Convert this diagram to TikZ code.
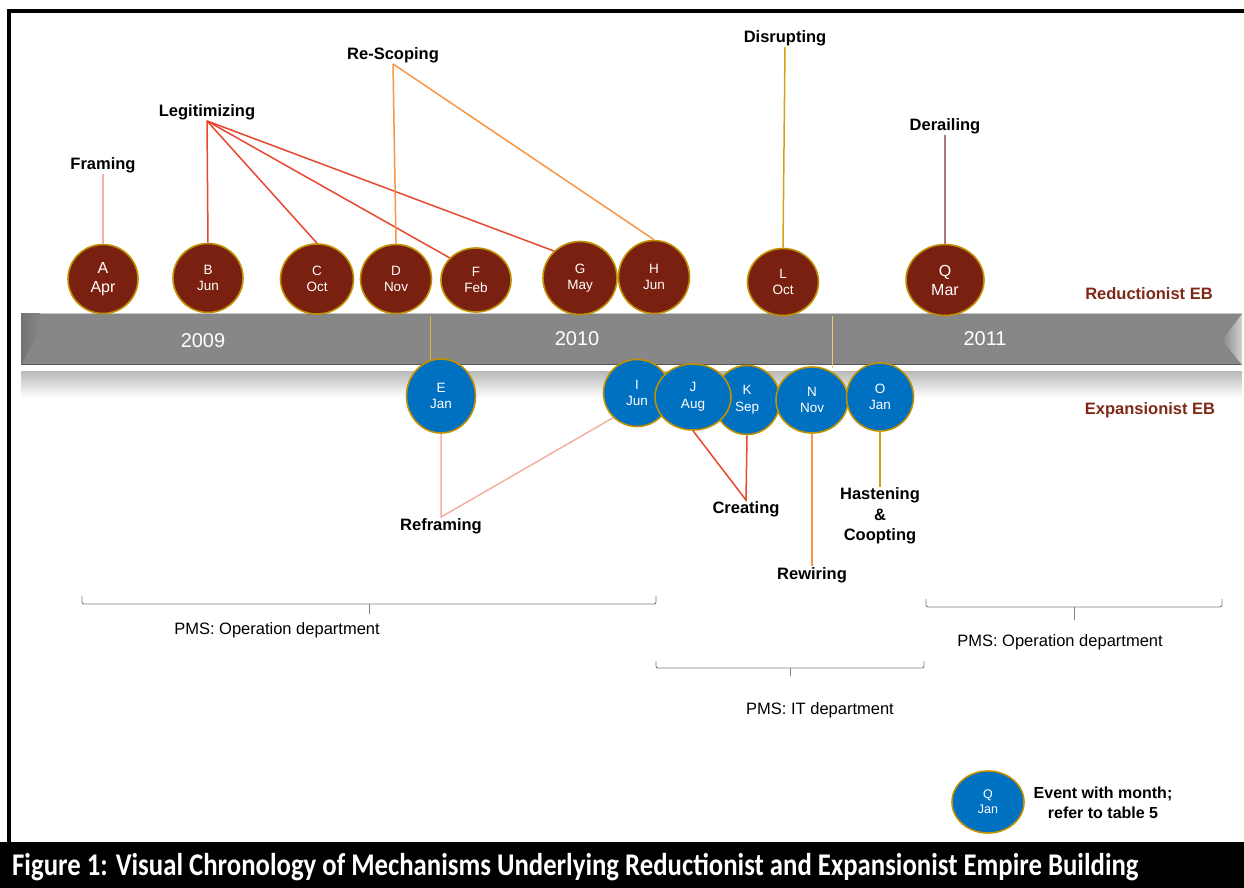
\documentclass[tikz,border=0pt]{standalone}
\usepackage{fontspec}
\usepackage{graphicx}
\setmainfont{Liberation Sans}
\newfontfamily\capfont{Carlito}
\usetikzlibrary{shapes.geometric}
\definecolor{evred}{RGB}{122,32,16}
\definecolor{evblue}{RGB}{0,112,192}
\definecolor{evgold}{RGB}{191,144,0}
\definecolor{ebred}{RGB}{128,40,22}
\definecolor{cpink}{RGB}{245,176,164}
\definecolor{cred}{RGB}{232,72,48}
\definecolor{corange}{RGB}{247,150,70}
\definecolor{cgold}{RGB}{212,160,23}
\definecolor{cmauve}{RGB}{170,120,120}
\definecolor{sepgold}{RGB}{222,178,60}
\definecolor{bargray}{RGB}{135,135,135}
\definecolor{bracegray}{RGB}{128,128,128}
\begin{document}
\begin{tikzpicture}[x=1pt,y=-1pt,
  ev/.style={ellipse, draw=evgold, line width=1.6pt, text=white, inner sep=0pt, align=center,
    font=\fontsize{13.5}{16.5}\selectfont},
  rev/.style={ev, fill=evred},
  bev/.style={ev, fill=evblue},
  bigev/.style={font=\fontsize{16}{19}\selectfont},
  mech/.style={font=\bfseries\fontsize{16.5}{20.5}\selectfont, inner sep=1pt, align=center},
  eblabel/.style={font=\bfseries\fontsize{16.5}{20}\selectfont, text=ebred, inner sep=0pt},
  year/.style={font=\fontsize{20}{24}\selectfont, text=white, inner sep=0pt},
  pms/.style={font=\fontsize{16.5}{20}\selectfont, inner sep=0pt},
  conn/.style={line width=1.5pt},
  bracel/.style={draw=bracegray, line width=0.9pt, rounded corners=2pt},
]
\useasboundingbox (0,0) rectangle (1244,888);
\fill[white] (0,0) rectangle (1244,888);
% frame
\draw[line width=4pt] (9,842) -- (9,11.5) -- (1244,11.5);
\fill[black] (0,842) rectangle (1244,888);
\node[anchor=base west, text=white, inner sep=0pt] (cap) at (12,875)
  {\resizebox{1126pt}{!}{\scalebox{1}[1.18]{\capfont\bfseries Figure 1: Visual Chronology of Mechanisms Underlying Reductionist and Expansionist Empire Building}}};

% timeline bar
\fill[bargray] (21,313) rectangle (1242,365);
\draw[gray!45, line width=1pt] (21,313.5) -- (1242,313.5);
\draw[gray!70!black, line width=1pt] (21,364.5) -- (1242,364.5);
\shade[left color=gray!90!black, right color=bargray] (21,313) -- (40,313) -- (40,330) -- (21,365) -- cycle;
\shade[left color=bargray, right color=gray!35] (1222,340) -- (1242,314) -- (1242,365) -- cycle;
\shade[top color=gray!55, bottom color=white] (21,371) rectangle (1242,398);
\node[year] (y2009) at (203,341) {2009};
\node[year] (y2010) at (577,339) {2010};
\node[year] (y2011) at (985,339) {2011};
\coordinate (s1a) at (430,316);
\coordinate (s1b) at (430,362);
\coordinate (s2a) at (832,316);
\coordinate (s2b) at (832,368);
\draw[sepgold, line width=1pt] (s1a) -- (s1b);
\draw[sepgold!70, line width=1pt] (s2a) -- (s2b);

\node[eblabel] (red) at (1149,294) {Reductionist EB};
\node[eblabel] (exp) at (1150,410) {Expansionist EB};

% mechanism labels
\node[mech] (fram) at (103,165) {Framing};
\node[mech] (legit) at (207,112) {Legitimizing};
\node[mech] (resc) at (393,55) {Re-Scoping};
\node[mech] (disr) at (785,38) {Disrupting};
\node[mech] (derail) at (945,126) {Derailing};
\node[mech] (refr) at (441,526) {Reframing};
\node[mech] (creat) at (746,509) {Creating};
\node[mech] (rew) at (812,575) {Rewiring};
\node[mech] (hast) at (880,516) {Hastening\\\&\\Coopting};

% reductionist events
\node[rev, bigev, minimum width=70pt, minimum height=69pt] (A) at (103,279) {A\\Apr};
\node[rev, minimum width=70pt, minimum height=69pt] (B) at (208,278) {B\\Jun};
\node[rev, minimum width=73pt, minimum height=70pt] (C) at (317,279) {C\\Oct};
\node[rev, minimum width=71pt, minimum height=69pt] (D) at (396,279) {D\\Nov};
\node[rev, minimum width=70pt, minimum height=64pt] (F) at (476,280) {F\\Feb};
\node[rev, minimum width=74pt, minimum height=73pt] (G) at (580,278) {G\\May};
\node[rev, minimum width=71pt, minimum height=73pt] (H) at (654,277) {H\\Jun};
\node[rev, minimum width=71pt, minimum height=67pt] (L) at (783,282) {L\\Oct};
\node[rev, bigev, minimum width=78pt, minimum height=71pt] (Q) at (945,280) {Q\\Mar};

% expansionist events
\node[bev, minimum width=69pt, minimum height=74pt] (E) at (441,396) {E\\Jan};
\node[bev, minimum width=67pt, minimum height=67pt] (I) at (637,393) {I\\Jun};
\node[bev, minimum width=66pt, minimum height=69pt] (K) at (747,400) {K\\Sep};
\node[bev, minimum width=76pt, minimum height=66pt] (J) at (693,397) {J\\Aug};
\node[bev, minimum width=72pt, minimum height=66pt] (N) at (812,400) {N\\Nov};
\node[bev, minimum width=67pt, minimum height=68pt] (O) at (880,397) {O\\Jan};

% connectors
\draw[conn, cpink] (fram.south) -- (A.north);
\draw[conn, cred] (legit.south) -- (B.north);
\draw[conn, cred] (legit.south) -- (C.north);
\draw[conn, cred] (legit.south) -- (F.140);
\draw[conn, cred] (legit.south) -- (G.134);
\draw[conn, corange] (resc.south) -- (D.north);
\draw[conn, corange] (resc.south) -- (H.north);
\draw[conn, cgold] (disr.south) -- (L.north);
\draw[conn, cmauve] (derail.south) -- (Q.north);
\draw[conn, cpink] (E.south) -- (refr.north) -- (I.226);
\draw[conn, cred] (J.south) -- (creat.north) -- (K.south);
\draw[conn, corange] (N.south) -- (rew.north);
\draw[conn, cgold] (O.south) -- (hast.north);

% braces
\draw[bracel] (82,596) -- (82,604) -- (656,604) -- (656,596);
\draw[bracegray, line width=0.9pt] (369,604) -- (369,614);
\node[pms] (pms1) at (277,630) {PMS: Operation department};
\draw[bracel] (656,661) -- (656,668) -- (924,668) -- (924,661);
\draw[bracegray, line width=0.9pt] (790,668) -- (790,676);
\node[pms] (pms2) at (820,710) {PMS: IT department};
\draw[bracel] (926,599) -- (926,607) -- (1222,607) -- (1222,599);
\draw[bracegray, line width=0.9pt] (1074,607) -- (1074,620);
\node[pms] (pms3) at (1060,642) {PMS: Operation department};

% legend
\node[bev, font=\fontsize{12.5}{15}\selectfont, minimum width=72pt, minimum height=62pt] (leg) at (988,802) {Q\\Jan};
\node[mech, font=\bfseries\fontsize{16}{19.5}\selectfont] (legt) at (1103,803) {Event with month;\\refer to table 5};
\end{tikzpicture}
\end{document}
